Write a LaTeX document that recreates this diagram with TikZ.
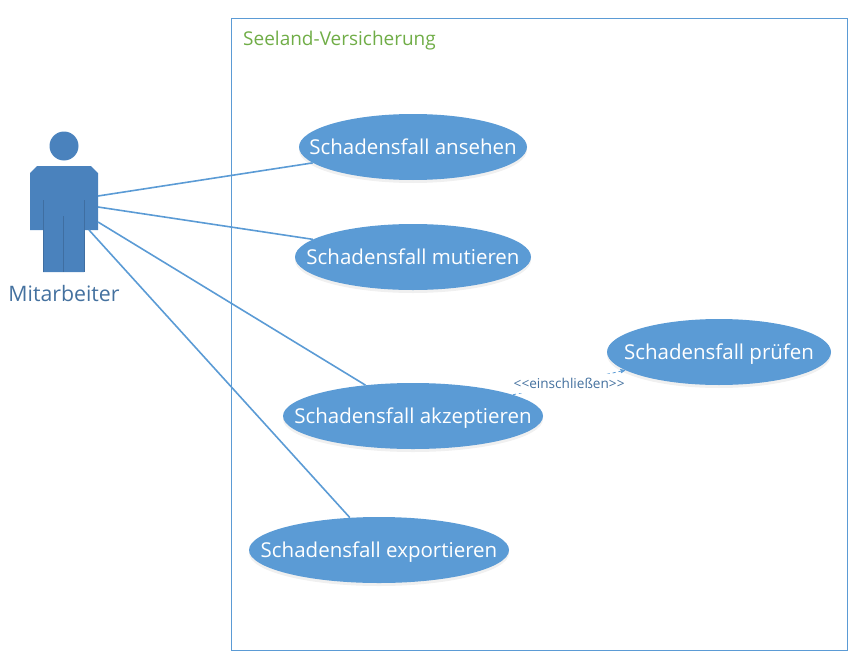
\documentclass[tikz,border=0pt]{standalone}
\usepackage{fontspec}
\setmainfont{Open Sans}
\usetikzlibrary{shapes.geometric, positioning, arrows, shadows}
\definecolor{fillblue}{HTML}{5B9BD5}
\definecolor{actorblue}{HTML}{4A82BD}
\definecolor{edgeblue}{HTML}{5B9BD5}
\definecolor{textblue}{HTML}{44719F}
\definecolor{titlegreen}{HTML}{70AD47}
\newcommand{\uclabel}[1]{\makebox[0pt]{\raisebox{-7.5pt}[0pt][0pt]{#1}}}
\tikzset{x=1pt,y=1pt,
usecase/.style={ellipse,fill=fillblue,text=white,inner sep=0pt,minimum height=66pt,font=\fontsize{20.5}{24}\selectfont,drop shadow={opacity=0.12,shadow xshift=0pt,shadow yshift=-3pt}},
assoc/.style={edgeblue,line width=1.6pt},
include/.style={edgeblue,line width=0.8pt,dashed,->,>=stealth'}}

\begin{document}
\begin{tikzpicture}
\useasboundingbox (0,0) rectangle (864,-669);
\node[draw=edgeblue,line width=1pt,minimum width=616pt,minimum height=632pt,inner sep=0pt,anchor=north west] (system) at (231,-18) {};
\node[text=titlegreen,anchor=west,inner sep=0pt,font=\fontsize{19}{22}\selectfont] (title) at (243,-41) {Seeland-Versicherung};
% actor
\fill[actorblue] (30,-173) -- (37,-166) -- (91,-166) -- (98,-173) -- (98,-230) -- (84,-230) -- (84,-272) -- (43,-272) -- (43,-230) -- (30,-230) -- cycle;
\fill[actorblue] (64,-146) circle (14.5);
\draw[actorblue!85!black,line width=0.7pt] (43,-200) -- (43,-272) (84,-200) -- (84,-272) (63.5,-216) -- (63.5,-272);
\node[text=textblue,inner sep=0pt,font=\fontsize{21.3}{24}\selectfont] (actor) at (64,-294) {Mitarbeiter};
\coordinate (a1) at (98,-196);
\coordinate (a2) at (98,-207);
\coordinate (a3) at (98,-222);
\coordinate (a4) at (89,-230);
% use cases
\node[usecase,minimum width=228pt] (ansehen) at (413,-147) {\uclabel{Schadensfall ansehen}};
\node[usecase,minimum width=236pt] (mutieren) at (413,-257) {\uclabel{Schadensfall mutieren}};
\node[usecase,minimum width=260pt] (akzeptieren) at (413,-416) {\uclabel{Schadensfall akzeptieren}};
\node[usecase,minimum width=260pt] (exportieren) at (379,-550) {\uclabel{Schadensfall exportieren}};
\node[usecase,minimum width=224pt] (pruefen) at (719,-352) {\uclabel{Schadensfall prüfen}};
\draw[assoc] (a1) -- (ansehen.189);
\draw[assoc] (a2) -- (mutieren.170);
\draw[assoc] (a3) -- (akzeptieren.147);
\draw[assoc] (a4) -- (exportieren.132);
\draw[include] (akzeptieren.12) -- node[fill=white,text=textblue,inner xsep=0pt,inner ysep=4pt,yshift=-1pt,font=\fontsize{13.6}{15}\selectfont] (incl) {<{}<einschließen>{}>} (pruefen.191);
\end{tikzpicture}
\end{document}
